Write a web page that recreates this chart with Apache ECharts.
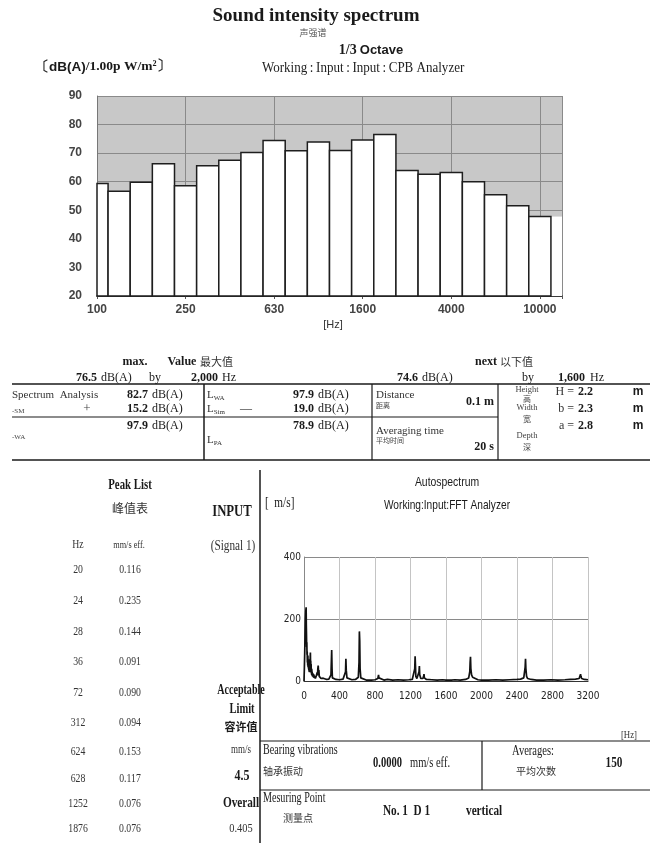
<!DOCTYPE html>
<html><head><meta charset="utf-8">
<script src="https://cdn.jsdelivr.net/npm/echarts@6/dist/echarts.min.js"></script>
<style>html,body{margin:0;padding:0;background:#fff}#c{width:650px;height:843px}</style>
</head><body><div id="c"></div>
<script>
// ---- data: 1/3 octave sound intensity spectrum ----
const bandHz = [100,125,160,200,250,315,400,500,630,800,1000,1250,1600,2000,2500,3150,4000,5000,6300,8000,10000];
const bandDb = [59.4,56.7,59.8,66.3,58.6,65.6,67.5,70.2,74.4,70.8,73.9,70.9,74.6,76.5,63.9,62.6,63.2,60.0,55.4,51.6,47.8];
const xTickLabels = ['100','250','630','1600','4000','10000'];

// ---- data: autospectrum (FFT) ----
const specHz = [0,4,8,12,16,20,24,26,28,30,32,34,36,38,40,42,44,46,48,50,52,54,56,58,60,62,64,66,68,70,72,74,76,78,80,82,84,86,88,90,92,96,100,104,108,112,116,120,124,128,132,136,140,144,148,152,156,160,164,168,172,176,180,186,192,200,208,216,224,232,256,280,296,304,312,316,320,336,360,400,440,460,468,472,476,484,500,540,580,600,612,620,624,628,632,640,660,700,760,800,820,832,840,844,860,900,940,948,956,1000,1060,1120,1180,1220,1240,1248,1252,1256,1260,1272,1288,1296,1300,1304,1316,1340,1348,1352,1356,1380,1440,1500,1560,1600,1660,1700,1760,1820,1856,1868,1872,1876,1880,1888,1900,1920,1960,2000,2080,2160,2240,2320,2400,2440,2460,2476,2484,2492,2496,2500,2508,2520,2560,2620,2700,2780,2860,2940,3000,3060,3100,3112,3116,3120,3128,3148,3160,3200];
const specVal = [0,40,90,150,200,225,238,180,150,110,125,85,95,60,75,50,82,45,65,40,70,35,55,30,50,28,45,30,60,75,92,50,65,30,55,25,40,20,38,18,30,15,25,12,22,10,18,9,16,8,14,9,18,12,28,18,40,50,28,35,15,20,10,14,8,11,6,9,5,7,5,6,8,20,100,40,10,6,5,4,6,10,30,72,35,10,5,4,5,6,12,60,160,130,40,10,5,3,3,4,5,8,20,10,4,3,5,8,4,3,4,3,4,5,10,40,80,50,15,8,12,30,48,20,8,8,15,22,10,5,4,3,4,3,3,4,3,5,10,30,60,78,40,20,12,8,4,3,3,4,3,4,5,6,8,10,15,45,72,40,15,8,5,3,3,4,3,4,5,6,8,12,22,15,8,6,5,4];

// ---- peak list ----
const peakHz = ['20','24','28','36','72','312','624','628','1252','1876'];
const peakVal = ['0.116','0.235','0.144','0.091','0.090','0.094','0.153','0.117','0.076','0.076'];

const SERIF = "'Liberation Serif','Times New Roman',serif";
const SANS = "'Liberation Sans',Arial,sans-serif";
const NARROW = "'Liberation Sans Narrow','DejaVu Sans Condensed','Liberation Sans',sans-serif";
const CJK = "'Noto Sans CJK SC',sans-serif";

const G = [];
function T(x, y, text, o) {
  o = o || {};
  const st = {
    text: text, fontFamily: o.f || SERIF, fontSize: o.s || 12, fontWeight: o.w || 'normal',
    fill: o.c || '#1a1a1a', align: o.a || 'left', verticalAlign: 'middle',
    textAlign: o.a || 'left', textVerticalAlign: 'middle'
  };
  if (o.rich) st.rich = o.rich;
  G.push({type: 'text', x: x, y: y, scaleX: o.sx || 1, silent: true, z: 10, style: st});
}
function L(x1, y1, x2, y2, w) {
  G.push({type: 'line', silent: true, z: 10, shape: {x1: x1, y1: y1, x2: x2, y2: y2},
    style: {stroke: '#1a1a1a', lineWidth: w || 1.2}});
}

// header
T(316, 16, 'Sound intensity spectrum', {s: 19, w: 'bold', a: 'center'});
T(313, 33, '声强谱', {f: CJK, s: 9, a: 'center', c: '#555'});
T(371, 50, '{a|1/3} {b|Octave}', {a: 'center', rich: {
  a: {fontFamily: SERIF, fontWeight: 'bold', fontSize: 14, fill: '#1a1a1a'},
  b: {fontFamily: SANS, fontWeight: 'bold', fontSize: 13, fill: '#1a1a1a'}}});
T(35, 67, '{a|〔dB(A)}{b|/1.00p W/m²〕}', {rich: {
  a: {fontFamily: SANS, fontWeight: 'bold', fontSize: 13.5, fill: '#1a1a1a'},
  b: {fontFamily: SERIF, fontWeight: 'bold', fontSize: 13.5, fill: '#1a1a1a'}}});
T(262, 68, 'Working\u2009:\u2009Input\u2009:\u2009Input\u2009:\u2009CPB Analyzer', {s: 14, sx: 0.93, c: '#222'});
T(333, 325, '[Hz]', {f: SANS, s: 11, a: 'center', c: '#333'});

// middle table
T(135, 362, 'max.', {w: 'bold', a: 'center'});
T(182, 362, 'Value', {w: 'bold', a: 'center'});
T(200, 362, '最大值', {f: CJK, s: 11, c: '#333'});
T(97, 378, '76.5', {w: 'bold', a: 'right'});
T(101, 378, 'dB(A)', {});
T(155, 378, 'by', {a: 'center'});
T(218, 378, '2,000', {w: 'bold', a: 'right'});
T(222, 378, 'Hz', {});
T(497, 362, 'next', {w: 'bold', a: 'right'});
T(500, 362, '以下值', {f: CJK, s: 11, c: '#333'});
T(418, 378, '74.6', {w: 'bold', a: 'right'});
T(422, 378, 'dB(A)', {});
T(528, 378, 'by', {a: 'center'});
T(585, 378, '1,600', {w: 'bold', a: 'right'});
T(590, 378, 'Hz', {});

L(12, 384, 650, 384, 1.5);
L(204, 384, 204, 460, 1.5);
L(372, 384, 372, 460, 1.2);
L(498, 384, 498, 460, 1.2);
L(12, 417, 498, 417, 1.2);
L(12, 460, 650, 460, 1.5);

T(12, 395, 'Spectrum  Analysis', {s: 11, c: '#333'});
T(148, 395, '82.7', {w: 'bold', a: 'right'});
T(152, 395, 'dB(A)', {});
T(12, 411, '-SM', {s: 7, c: '#444'});
T(87, 409, '+', {s: 13, a: 'center', c: '#444'});
T(148, 409, '15.2', {w: 'bold', a: 'right'});
T(152, 409, 'dB(A)', {});
T(148, 426, '97.9', {w: 'bold', a: 'right'});
T(152, 426, 'dB(A)', {});
T(12, 437, '-WA', {s: 7, c: '#444'});
const Lrich = {L: {fontFamily: SERIF, fontSize: 11, fill: '#333'}, s: {fontFamily: SERIF, fontSize: 7, fill: '#333', padding: [6, 0, 0, 0]}};
T(207, 395, '{L|L}{s|WA}', {rich: Lrich});
T(207, 409, '{L|L}{s|Sim}', {rich: Lrich});
T(240, 409, '—', {s: 12, c: '#333'});
T(207, 440, '{L|L}{s|PA}', {rich: Lrich});
T(314, 395, '97.9', {w: 'bold', a: 'right'});
T(318, 395, 'dB(A)', {});
T(314, 409, '19.0', {w: 'bold', a: 'right'});
T(318, 409, 'dB(A)', {});
T(314, 426, '78.9', {w: 'bold', a: 'right'});
T(318, 426, 'dB(A)', {});

T(376, 395, 'Distance', {s: 11, c: '#333'});
T(376, 405, '距离', {f: CJK, s: 7, c: '#444'});
T(494, 402, '0.1 m', {w: 'bold', a: 'right'});
T(376, 431, 'Averaging time', {s: 11, c: '#333'});
T(376, 440, '平均时间', {f: CJK, s: 7, c: '#444'});
T(494, 447, '20 s', {w: 'bold', a: 'right'});

T(527, 390, 'Height', {s: 8.5, a: 'center', c: '#444'});
T(527, 399, '高', {f: CJK, s: 8, a: 'center', c: '#444'});
T(527, 408, 'Width', {s: 8.5, a: 'center', c: '#444'});
T(527, 419, '宽', {f: CJK, s: 8, a: 'center', c: '#444'});
T(527, 436, 'Depth', {s: 8.5, a: 'center', c: '#444'});
T(527, 447, '深', {f: CJK, s: 8, a: 'center', c: '#444'});
[['H =', '2.2', 392], ['b =', '2.3', 409], ['a =', '2.8', 426]].forEach(function (r) {
  T(574, r[2], r[0], {a: 'right', c: '#333'});
  T(578, r[2], r[1], {w: 'bold'});
  T(638, r[2], 'm', {f: SANS, w: 'bold', a: 'center'});
});

// lower section
L(260, 470, 260, 843, 1.5);
L(260, 741, 650, 741, 1.2);
L(482, 741, 482, 790, 1.2);
L(260, 790, 650, 790, 1.2);

T(130, 485, 'Peak List', {s: 15, w: 'bold', sx: 0.72, a: 'center'});
T(130, 508, '峰值表', {f: CJK, s: 12, a: 'center', c: '#333'});
T(232, 512, 'INPUT', {s: 17, w: 'bold', sx: 0.75, a: 'center'});
T(233, 546, '(Signal 1)', {s: 15, sx: 0.75, a: 'center', c: '#333'});
T(78, 545, 'Hz', {s: 13, sx: 0.75, a: 'center', c: '#333'});
T(129, 545, 'mm/s eff.', {s: 11, sx: 0.75, a: 'center', c: '#333'});
const peakRowY = [570, 601, 632, 662, 693, 723, 752, 779, 804, 829];
peakHz.forEach(function (h, i) {
  T(78, peakRowY[i], h, {s: 13, sx: 0.75, a: 'center', c: '#333'});
  T(130, peakRowY[i], peakVal[i], {s: 13, sx: 0.75, a: 'center', c: '#333'});
});
T(241, 690, 'Acceptable', {s: 14, w: 'bold', sx: 0.72, a: 'center'});
T(242, 709, 'Limit', {s: 14, w: 'bold', sx: 0.75, a: 'center'});
T(241, 727, '容许值', {f: CJK, s: 11, w: 'bold', a: 'center'});
T(241, 750, 'mm/s', {s: 12, sx: 0.75, a: 'center', c: '#333'});
T(242, 776, '4.5', {s: 15, w: 'bold', sx: 0.8, a: 'center'});
T(241, 803, 'Overall', {s: 15, w: 'bold', sx: 0.75, a: 'center'});
T(241, 829, '0.405', {s: 13, sx: 0.8, a: 'center', c: '#333'});

T(447, 482, 'Autospectrum', {f: SANS, s: 13, sx: 0.8, a: 'center'});
T(265, 503, '[  m/s]', {s: 15, sx: 0.75});
T(447, 505, 'Working:Input:FFT Analyzer', {f: SANS, s: 13, sx: 0.78, a: 'center'});
T(637, 735, '[Hz]', {s: 11, sx: 0.8, a: 'right', c: '#333'});
T(263, 750, 'Bearing vibrations', {s: 14, sx: 0.72});
T(263, 771, '轴承振动', {f: CJK, s: 10, c: '#333'});
T(373, 763, '0.0000', {s: 14, w: 'bold', sx: 0.75});
T(410, 763, 'mm/s eff.', {s: 14, sx: 0.75});
T(533, 751, 'Averages:', {s: 14, sx: 0.75, a: 'center'});
T(536, 771, '平均次数', {f: CJK, s: 10, a: 'center', c: '#333'});
T(614, 763, '150', {s: 15, w: 'bold', sx: 0.75, a: 'center'});
T(263, 798, 'Mesuring Point', {s: 14, sx: 0.72});
T(298, 818, '测量点', {f: CJK, s: 10, a: 'center', c: '#333'});
T(383, 811, 'No. 1  D 1', {s: 15, w: 'bold', sx: 0.75});
T(466, 811, 'vertical', {s: 15, w: 'bold', sx: 0.75});

// bars (band index = 10*log10(f), i.e. 1 unit per 1/3 octave)
const barData = bandHz.map(function (f, i) { return [Math.round(10 * Math.log10(f)), bandDb[i]]; });
const Y0 = 20;
function renderBar(params, api) {
  const n = api.value(0), v = api.value(1);
  const p0 = api.coord([n - 0.5, v]);
  const p1 = api.coord([n + 0.5, Y0]);
  const cs = params.coordSys;
  const clip = {x: cs.x, y: cs.y, width: cs.width, height: cs.height};
  const r = echarts.graphic.clipRectByRect({x: p0[0], y: p0[1], width: p1[0] - p0[0], height: p1[1] - p0[1]}, clip);
  const children = [];
  if (params.dataIndex === bandHz.length - 1) {
    children.push({type: 'rect', shape: {x: p1[0], y: p0[1], width: cs.x + cs.width - p1[0], height: p1[1] - p0[1]},
      style: {fill: '#fff', stroke: null}});
  }
  if (r) children.push({type: 'rect', shape: r, style: {fill: '#fff', stroke: '#1e1e1e', lineWidth: 1.5}});
  return {type: 'group', children: children};
}

const chart = echarts.init(document.getElementById('c'), null, {renderer: 'canvas'});
chart.setOption({
  backgroundColor: '#fff',
  animation: false,
  grid: [
    {left: 97, top: 96, width: 465, height: 200, show: true, backgroundColor: '#c8c8c8', borderWidth: 0},
    {left: 304, top: 557, width: 284, height: 124, show: false}
  ],
  xAxis: [
    {type: 'value', gridIndex: 0, min: 20, max: 41, interval: 4,
      axisLine: {show: true, lineStyle: {color: '#222', width: 1.5}},
      axisTick: {show: true, length: 3, lineStyle: {color: '#555'}},
      splitLine: {show: true, lineStyle: {color: '#8a8a8a', width: 1}},
      axisLabel: {margin: 8, fontFamily: SANS, fontSize: 12, fontWeight: 'bold', color: '#444',
        formatter: function (v) { const i = (v - 20) / 4; return (Number.isInteger(i) && i < xTickLabels.length) ? xTickLabels[i] : ''; }}},
    {type: 'value', gridIndex: 1, min: 0, max: 3200, interval: 400,
      axisLine: {show: true, lineStyle: {color: '#333', width: 1.2}},
      axisTick: {show: false},
      splitLine: {show: true, lineStyle: {color: '#c4c4c4', width: 1}},
      axisLabel: {margin: 10, fontFamily: NARROW, fontSize: 10, color: '#222', formatter: function (v) { return String(v); }}}
  ],
  yAxis: [
    {type: 'value', gridIndex: 0, min: 20, max: 90, interval: 10,
      axisLine: {show: true, lineStyle: {color: '#777', width: 1}},
      axisTick: {show: false},
      splitLine: {show: true, lineStyle: {color: '#8a8a8a', width: 1}},
      axisLabel: {margin: 15, fontFamily: SANS, fontSize: 12, fontWeight: 'bold', color: '#444'}},
    {type: 'value', gridIndex: 1, min: 0, max: 400, interval: 200,
      axisLine: {show: true, lineStyle: {color: '#888', width: 1}},
      axisTick: {show: false},
      splitLine: {show: true, lineStyle: {color: '#8a8a8a', width: 1}},
      axisLabel: {margin: 3, fontFamily: NARROW, fontSize: 10, color: '#222'}}
  ],
  series: [
    {type: 'custom', xAxisIndex: 0, yAxisIndex: 0, renderItem: renderBar, data: barData, encode: {x: 0, y: 1}},
    {type: 'line', xAxisIndex: 1, yAxisIndex: 1, showSymbol: false, symbol: 'none',
      lineStyle: {color: '#111', width: 1.7},
      data: specHz.map(function (h, i) { return [h, specVal[i]]; })}
  ],
  graphic: {elements: G}
});
</script>
</body></html>
